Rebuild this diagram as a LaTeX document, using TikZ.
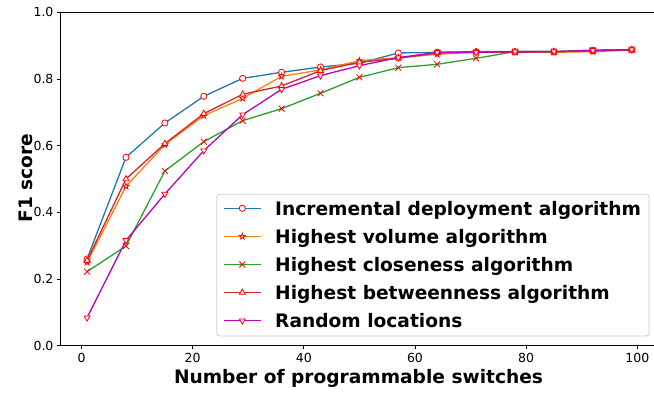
\documentclass[tikz,border=0pt]{standalone}
\usepackage{fontspec}
\setmainfont{DejaVu Sans}
\usetikzlibrary{positioning,plotmarks}

\definecolor{mplblue}{HTML}{1F77B4}
\definecolor{mplorange}{HTML}{FF7F0E}
\definecolor{mplgreen}{HTML}{2CA02C}
\definecolor{mplred}{HTML}{D62728}
\definecolor{mplmagenta}{HTML}{BF00BF}
\definecolor{legendframe}{HTML}{CCCCCC}

% hollow five-pointed star
\pgfdeclareplotmark{pstar}{%
  \pgfpathmoveto{\pgfpointpolar{90}{\pgfplotmarksize}}%
  \pgfpathlineto{\pgfpointpolar{126}{0.4\pgfplotmarksize}}%
  \pgfpathlineto{\pgfpointpolar{162}{\pgfplotmarksize}}%
  \pgfpathlineto{\pgfpointpolar{198}{0.4\pgfplotmarksize}}%
  \pgfpathlineto{\pgfpointpolar{234}{\pgfplotmarksize}}%
  \pgfpathlineto{\pgfpointpolar{270}{0.4\pgfplotmarksize}}%
  \pgfpathlineto{\pgfpointpolar{306}{\pgfplotmarksize}}%
  \pgfpathlineto{\pgfpointpolar{342}{0.4\pgfplotmarksize}}%
  \pgfpathlineto{\pgfpointpolar{18}{\pgfplotmarksize}}%
  \pgfpathlineto{\pgfpointpolar{54}{0.4\pgfplotmarksize}}%
  \pgfpathclose
  \pgfusepathqfillstroke}

\begin{document}
\begin{tikzpicture}[
    x=1pt, y=1pt,
    spine/.style={line width=0.9pt},
    tickmark/.style={line width=0.9pt},
    ticklabel/.style={font=\fontsize{12.5}{14}\selectfont, inner sep=0pt},
    axislabel/.style={font=\fontsize{18.6}{22}\selectfont\bfseries, inner sep=0pt},
    series/.style={line width=1.3pt, mark size=3.1pt,
        every mark/.append style={draw=red, fill=white, line width=0.8pt, solid}},
    flipmark/.style={every mark/.append style={rotate=#1}},
    growmark/.style={every mark/.append style={scale=#1}},
    legendtext/.style={font=\fontsize{18.6}{22}\selectfont\bfseries, inner sep=0pt,
        text height=14.8pt, text depth=1.2pt},
    node distance=11.7pt
]
    \useasboundingbox (0,0) rectangle (654,392);
    \clip (0,0) rectangle (654,392);

    % axes
    \draw[spine] (60,379.7) -- (60,46.3) -- (660,46.3);
    \draw[spine] (60,379.7) -- (660,379.7);

    \begin{scope}[shift={(81.5,46.3)}, x=5.558pt, y=333.4pt]
        \foreach \v in {0.0,0.2,0.4,0.6,0.8,1.0}
            \draw[tickmark] (-3.87,\v) -- ++(-2.8pt,0)
                node[ticklabel, anchor=east, xshift=-3.3pt] {\v};
        \foreach \t in {0,20,...,100}
            \draw[tickmark] (\t,0) -- ++(0,-2.8pt)
                node[ticklabel, anchor=north, yshift=-4.6pt] {\t};

        \draw[series, mplblue] plot[mark=*] coordinates {
            (1,0.260) (8,0.565) (15,0.668) (22,0.748) (29,0.802)
            (36,0.820) (43,0.836) (50,0.847) (57,0.878) (64,0.880)
            (71,0.882) (78,0.882) (85,0.882) (92,0.886) (99,0.888)};
        \draw[series, mplorange] plot[mark=pstar] coordinates {
            (1,0.250) (8,0.478) (15,0.603) (22,0.690) (29,0.742)
            (36,0.808) (43,0.827) (50,0.855) (57,0.864) (64,0.874)
            (71,0.880) (78,0.880) (85,0.880) (92,0.882) (99,0.887)};
        \draw[series, mplgreen, growmark=1.35] plot[mark=x] coordinates {
            (1,0.222) (8,0.299) (15,0.524) (22,0.612) (29,0.675)
            (36,0.711) (43,0.757) (50,0.805) (57,0.834) (64,0.844)
            (71,0.862) (78,0.882) (85,0.882) (92,0.886) (99,0.888)};
        \draw[series, mplred, growmark=1.1] plot[mark=triangle*] coordinates {
            (1,0.255) (8,0.500) (15,0.606) (22,0.696) (29,0.754)
            (36,0.779) (43,0.825) (50,0.850) (57,0.862) (64,0.878)
            (71,0.880) (78,0.880) (85,0.882) (92,0.884) (99,0.887)};
        \draw[series, mplmagenta, flipmark=180, growmark=1.1] plot[mark=triangle*] coordinates {
            (1,0.084) (8,0.316) (15,0.455) (22,0.585) (29,0.693)
            (36,0.769) (43,0.810) (50,0.840) (57,0.864) (64,0.880)
            (71,0.880) (78,0.882) (85,0.882) (92,0.886) (99,0.888)};
    \end{scope}

    \node[axislabel] (xlabel) at (358.5,14) {Number of programmable switches};
    \node[axislabel, rotate=90] (ylabel) at (25.5,213.7) {F1 score};

    % legend
    \draw[legendframe, fill=white, fill opacity=0.8, rounded corners=3pt, line width=0.8pt]
        (216.7,56) rectangle (649,197.7);
    \node[legendtext, anchor=west] (incr) at (275,183.7) {Incremental deployment algorithm};
    \node[legendtext, below=of incr.south west, anchor=north west] (vol) {Highest volume algorithm};
    \node[legendtext, below=of vol.south west, anchor=north west] (clos) {Highest closeness algorithm};
    \node[legendtext, below=of clos.south west, anchor=north west] (betw) {Highest betweenness algorithm};
    \node[legendtext, below=of betw.south west, anchor=north west] (rand) {Random locations};

    \foreach \n/\c/\m/\r/\s in {incr/mplblue/*/0/1, vol/mplorange/pstar/0/1, clos/mplgreen/x/0/1.35,
                                betw/mplred/triangle*/0/1.1, rand/mplmagenta/triangle*/180/1.1} {
        \draw[series, \c] ([xshift=-51pt]\n.west) -- ([xshift=-14.3pt]\n.west);
        \path[series, flipmark=\r, growmark=\s] plot[mark=\m] coordinates {([xshift=-32.7pt]\n.west)};
    }
\end{tikzpicture}
\end{document}
